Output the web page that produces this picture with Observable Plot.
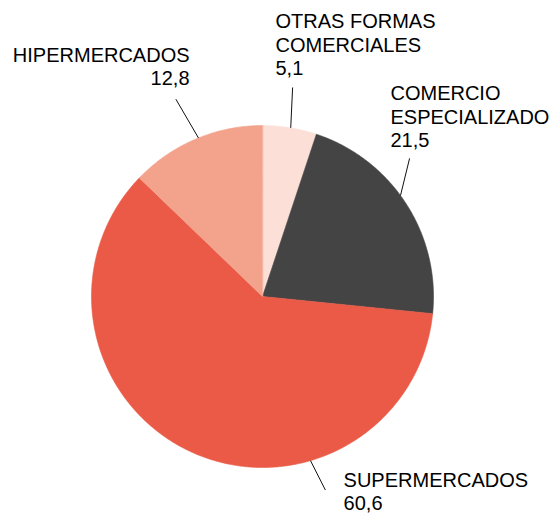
<!DOCTYPE html>
<html>
<head>
<meta charset="utf-8">
<script src="https://cdn.jsdelivr.net/npm/d3@7"></script>
<script src="https://cdn.jsdelivr.net/npm/@observablehq/plot@0.6"></script>
<style>
  html, body { margin: 0; padding: 0; background: #fff; }
  #chart svg { display: block; }
</style>
</head>
<body>
<div id="chart"></div>
<script>
// ---- Data ----
const categories = ["OTRAS FORMAS COMERCIALES", "COMERCIO ESPECIALIZADO", "SUPERMERCADOS", "HIPERMERCADOS"];
const labelTexts = ["OTRAS FORMAS\nCOMERCIALES", "COMERCIO\nESPECIALIZADO", "SUPERMERCADOS", "HIPERMERCADOS"];
const values = [5.1, 21.5, 60.6, 12.8];
const valueLabels = ["5,1", "21,5", "60,6", "12,8"];

// ---- Style / layout ----
const colors = ["#fce0d8", "#444444", "#ea5a47", "#f3a38c"];
const W = 553, H = 514;
const cx = 262, cy = 296, R = 171;               // pie centre & radius (px)
// leader lines: polar (deg clockwise from 12 o'clock, radius in pie radii)
const leaders = [
  {a1: 9.5,   r1: 1.0, a2: 8.2,   r2: 1.235},
  {a1: 53.8,  r1: 1.0, a2: 46.8,  r2: 1.18},
  {a1: 163.7, r1: 1.0, a2: 162.0, r2: 1.19},
  {a1: 338.0, r1: 1.0, a2: 336.3, r2: 1.26}
];
// label anchors: polar, plus text anchor
const labelPos = [
  {a: 2.61,  r: 1.668, anchor: "start"},
  {a: 31.0,  r: 1.453, anchor: "start"},
  {a: 155.0, r: 1.122, anchor: "start"},
  {a: 343.8, r: 1.529, anchor: "end"}
];

const rad = d => d * Math.PI / 180;
const px = (a, r) => r * Math.sin(rad(a));
const py = (a, r) => r * Math.cos(rad(a));

// pie slice polygons
const total = d3.sum(values);
const slices = [];
let acc = 0;
categories.forEach((c, i) => {
  const a0 = acc / total * 360;
  acc += values[i];
  const a1 = acc / total * 360;
  slices.push({cat: c, x: 0, y: 0});
  const n = Math.max(2, Math.ceil((a1 - a0) / 0.5));
  for (let k = 0; k <= n; k++) {
    const a = a0 + (a1 - a0) * k / n;
    slices.push({cat: c, x: px(a, 1), y: py(a, 1)});
  }
});

const leaderSegs = categories.map((c, i) => ({
  cat: c,
  x1: px(leaders[i].a1, leaders[i].r1), y1: py(leaders[i].a1, leaders[i].r1),
  x2: px(leaders[i].a2, leaders[i].r2), y2: py(leaders[i].a2, leaders[i].r2)
}));

const labels = categories.map((c, i) => ({
  text: labelTexts[i] + "\n" + valueLabels[i],
  x: px(labelPos[i].a, labelPos[i].r),
  y: py(labelPos[i].a, labelPos[i].r),
  anchor: labelPos[i].anchor
}));

const textOpts = {
  x: "x", y: "y", text: "text",
  lineAnchor: "top", lineHeight: 1.17,
  fontSize: 20, fill: "#000"
};

const chart = Plot.plot({
  width: W, height: H,
  margin: 0,
  style: {fontFamily: "'Liberation Sans', Arial, Helvetica, sans-serif", background: "#fff"},
  x: {domain: [-cx / R, (W - cx) / R], axis: null},
  y: {domain: [-(H - cy) / R, cy / R], axis: null},
  color: {domain: categories, range: colors},
  marks: [
    Plot.line(slices, {x: "x", y: "y", z: "cat", fill: "cat", stroke: "cat", strokeWidth: 0.6, curve: "linear-closed"}),
    Plot.link(leaderSegs, {x1: "x1", y1: "y1", x2: "x2", y2: "y2", stroke: "#111", strokeWidth: 1}),
    Plot.text(labels.filter(d => d.anchor === "start"), {...textOpts, textAnchor: "start"}),
    Plot.text(labels.filter(d => d.anchor === "end"), {...textOpts, textAnchor: "end"})
  ]
});
document.getElementById("chart").appendChild(chart);
</script>
</body>
</html>
